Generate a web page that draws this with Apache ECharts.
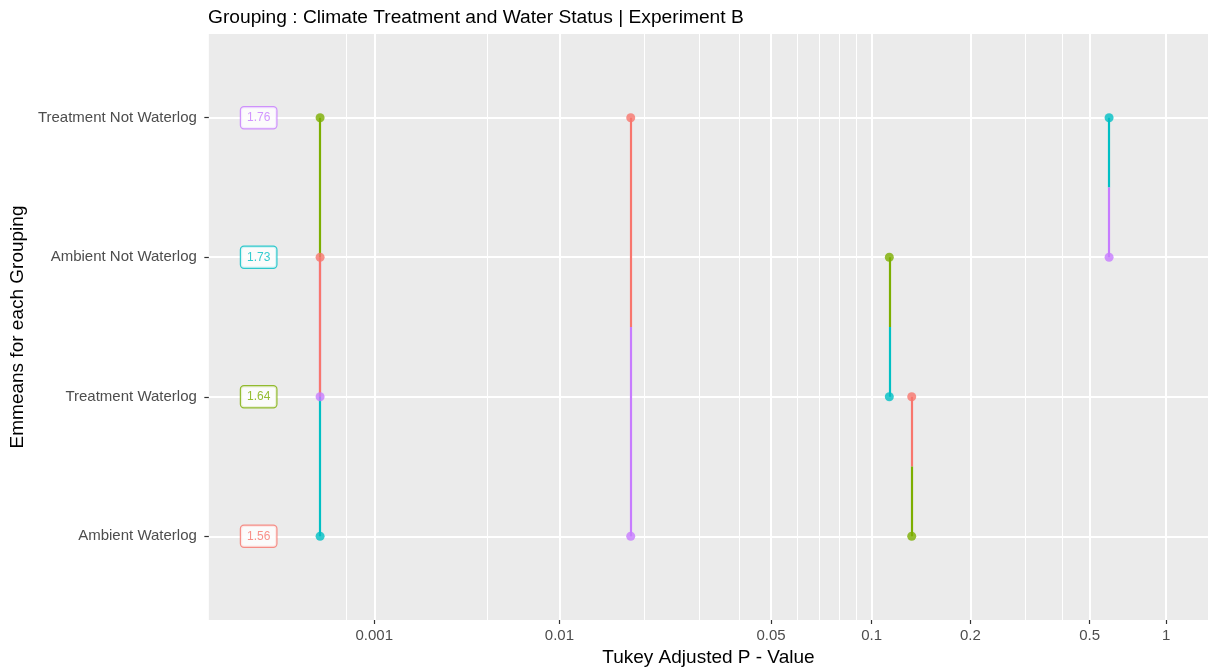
<!DOCTYPE html>
<html>
<head>
<meta charset="utf-8">
<title>Grouping : Climate Treatment and Water Status | Experiment B</title>
<script src="https://cdn.jsdelivr.net/npm/echarts@6/dist/echarts.min.js"></script>
<style>
  html, body { margin: 0; padding: 0; background: #ffffff; }
  #chart { width: 1208px; height: 672px; }
</style>
</head>
<body>
<div id="chart"></div>
<script>
// Factor levels, bottom to top, with their estimated marginal means
const levels = ['Ambient Waterlog', 'Treatment Waterlog', 'Ambient Not Waterlog', 'Treatment Not Waterlog'];
const emmeans = [1.56, 1.64, 1.73, 1.76];
const levelColors = ['#F8766D', '#7CAE00', '#00BFC4', '#C77CFF'];

// Pairwise comparisons (indices into levels) and Tukey-adjusted P values
const pairA = [3, 2, 3, 2, 1, 3];
const pairB = [1, 0, 0, 1, 0, 2];
const pValues = [0.00017, 0.00017, 0.018, 0.113, 0.132, 0.59];

// P-value axis breaks
const majorBreaks = [0.001, 0.01, 0.05, 0.1, 0.2, 0.5, 1];
const majorLabels = ['0.001', '0.01', '0.05', '0.1', '0.2', '0.5', '1'];
const minorBreaks = [0.0005, 0.005, 0.02, 0.03, 0.04, 0.06, 0.07, 0.08, 0.09, 0.3, 0.4];

// Nonlinear P-value scale: roughly logarithmic in the middle, compressed at both ends
function erf(x) {
  const s = x < 0 ? -1 : 1;
  x = Math.abs(x);
  const t = 1 / (1 + 0.3275911 * x);
  const y = 1 - (((((1.061405429 * t - 1.453152027) * t) + 1.421413741) * t - 0.284496736) * t + 0.254829592) * t * Math.exp(-x * x);
  return s * y;
}
function pScale(p) {
  const z = (Math.log10(p) + 1.1) / 1.28;
  return 0.5 * (1 + erf(z / Math.SQRT2));
}

// Axis ranges on the transformed scale
const X_MIN = -0.0849, X_MAX = 0.8438;
const LABEL_X = -0.0386;
const Y_MIN = 0.4, Y_MAX = 4.6;

const FONT = "'Liberation Sans', Arial, Helvetica, sans-serif";
const majorU = majorBreaks.map(pScale);
const minorU = minorBreaks.map(pScale);
const levelY = levels.map((_, i) => i + 1);

// Each comparison is a vertical segment; the half next to a level takes the other level's colour
const segments = [];
const points = [];
pValues.forEach((p, k) => {
  const u = pScale(p);
  const a = pairA[k], b = pairB[k];
  const ya = levelY[a], yb = levelY[b];
  const mid = (ya + yb) / 2;
  segments.push({ coords: [[u, ya], [u, mid]], lineStyle: { color: levelColors[b] } });
  segments.push({ coords: [[u, mid], [u, yb]], lineStyle: { color: levelColors[a] } });
  points.push({ value: [u, ya], itemStyle: { color: levelColors[b] } });
  points.push({ value: [u, yb], itemStyle: { color: levelColors[a] } });
});

const meanLabels = levels.map((_, i) => ({
  value: [LABEL_X, levelY[i]],
  label: { color: levelColors[i], borderColor: levelColors[i] }
}));

const chart = echarts.init(document.getElementById('chart'), null, { renderer: 'canvas' });
chart.setOption({
  animation: false,
  backgroundColor: '#ffffff',
  textStyle: { fontFamily: FONT },
  title: {
    text: 'Grouping : Climate Treatment and Water Status | Experiment B',
    left: 203,
    top: 3,
    textStyle: { fontFamily: FONT, fontSize: 19.2, fontWeight: 'normal', color: '#000000' }
  },
  grid: {
    left: 205, right: 0, top: 34, bottom: 52,
    show: true, backgroundColor: '#EBEBEB', borderWidth: 0
  },
  xAxis: [
    {
      type: 'value',
      min: X_MIN, max: X_MAX,
      position: 'bottom',
      name: 'Tukey Adjusted P - Value',
      nameLocation: 'middle',
      nameGap: 27,
      nameTextStyle: { fontFamily: FONT, fontSize: 19, color: '#000000' },
      axisLine: { show: false, onZero: false },
      axisTick: { show: true, customValues: majorU, length: 4, lineStyle: { color: '#333333', width: 1.2 } },
      axisLabel: {
        customValues: majorU,
        margin: 8,
        fontFamily: FONT, fontSize: 15, color: '#4D4D4D',
        formatter: v => {
          const i = majorU.findIndex(m => Math.abs(m - v) < 1e-9);
          return i >= 0 ? majorLabels[i] : '';
        }
      },
      splitLine: { show: true, lineStyle: { color: '#FFFFFF', width: 2 } }
    },
    {
      type: 'value',
      min: X_MIN, max: X_MAX,
      position: 'bottom',
      axisLine: { show: false, onZero: false },
      axisTick: { show: false, customValues: minorU },
      axisLabel: { show: false, customValues: minorU },
      splitLine: { show: true, lineStyle: { color: '#FFFFFF', width: 1 } }
    }
  ],
  yAxis: {
    type: 'value',
    min: Y_MIN, max: Y_MAX,
    position: 'left',
    name: 'Emmeans for each Grouping',
    nameLocation: 'middle',
    nameGap: 177,
    nameRotate: 90,
    nameTextStyle: { fontFamily: FONT, fontSize: 19, color: '#000000' },
    axisLine: { show: false, onZero: false },
    axisTick: { show: true, customValues: levelY, length: 4.5, lineStyle: { color: '#333333', width: 1.2 } },
    axisLabel: {
      customValues: levelY,
      margin: 12,
      fontFamily: FONT, fontSize: 15, color: '#4D4D4D',
      formatter: v => levels[Math.round(v) - 1] || ''
    },
    splitLine: { show: true, lineStyle: { color: '#FFFFFF', width: 2 } }
  },
  series: [
    {
      name: 'comparisons',
      type: 'lines',
      coordinateSystem: 'cartesian2d',
      xAxisIndex: 0,
      yAxisIndex: 0,
      silent: true,
      z: 2,
      lineStyle: { width: 2.2, opacity: 1, cap: 'butt' },
      data: segments
    },
    {
      name: 'pairs',
      type: 'scatter',
      xAxisIndex: 0,
      yAxisIndex: 0,
      symbol: 'circle',
      symbolSize: 9,
      silent: true,
      z: 3,
      data: points
    },
    {
      name: 'emmeans',
      type: 'scatter',
      xAxisIndex: 0,
      yAxisIndex: 0,
      symbolSize: 1,
      silent: true,
      z: 4,
      itemStyle: { color: 'rgba(0,0,0,0)' },
      label: {
        show: true,
        position: 'inside',
        fontFamily: FONT,
        fontSize: 12,
        lineHeight: 13,
        backgroundColor: '#FFFFFF',
        borderWidth: 1.2,
        borderRadius: 3,
        padding: [4, 6],
        formatter: prm => emmeans[prm.dataIndex].toFixed(2)
      },
      data: meanLabels
    }
  ]
});
</script>
</body>
</html>
